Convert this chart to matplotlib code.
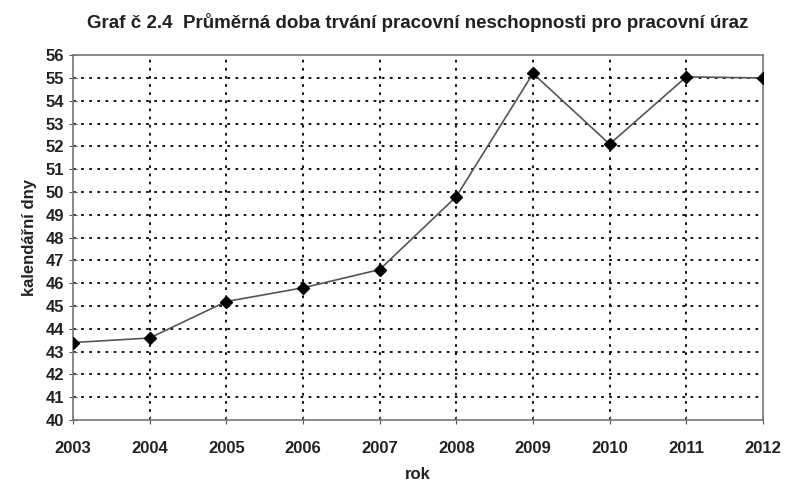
import matplotlib.pyplot as plt
import numpy as np

years = [2003, 2004, 2005, 2006, 2007, 2008, 2009, 2010, 2011, 2012]
days = [43.4, 43.6, 45.2, 45.8, 46.6, 49.8, 55.2, 52.1, 55.05, 55.0]
yticks = list(range(40, 57))

plt.rcParams['font.family'] = ['Liberation Sans Narrow', 'Liberation Sans', 'DejaVu Sans']

fig = plt.figure(figsize=(7.89, 4.84), dpi=100)
ax = fig.add_axes([0.0925, 0.132, 0.8745, 0.754])

ax.plot(years, days, color='#555555', linewidth=1.2, marker='D', markersize=6,
        markerfacecolor='black', markeredgecolor='black', zorder=3)

ax.set_xlim(2003, 2012)
ax.set_ylim(40, 56)
ax.set_xticks(years)
ax.set_yticks(yticks)

# dotted grid
for y in yticks[1:-1]:
    ax.axhline(y, color='black', linestyle=(0, (1.5, 3)), linewidth=1.3, zorder=1)
for x in years[1:-1]:
    ax.axvline(x, color='black', linestyle=(0, (1.5, 3)), linewidth=1.3, zorder=1)

for s in ax.spines.values():
    s.set_color('#777777')
    s.set_linewidth(1.2)

ax.tick_params(direction='inout', length=6, color='#555555', labelsize=12)
ax.tick_params(axis='x', pad=12)
for lbl in ax.get_xticklabels() + ax.get_yticklabels():
    lbl.set_fontweight('bold')
    lbl.set_color('#222222')

ax.set_xlabel('rok', fontsize=12, fontweight='bold', color='#222222', labelpad=8)
ax.set_ylabel('kalendářní dny', fontsize=12, fontweight='bold', color='#222222', labelpad=6)
fig.text(0.53, 0.953, 'Graf č 2.4  Průměrná doba trvání pracovní neschopnosti pro pracovní úraz',
         ha='center', va='center', fontsize=13.5, fontweight='bold', color='#222222')

fig.savefig('out.png', dpi=100)
